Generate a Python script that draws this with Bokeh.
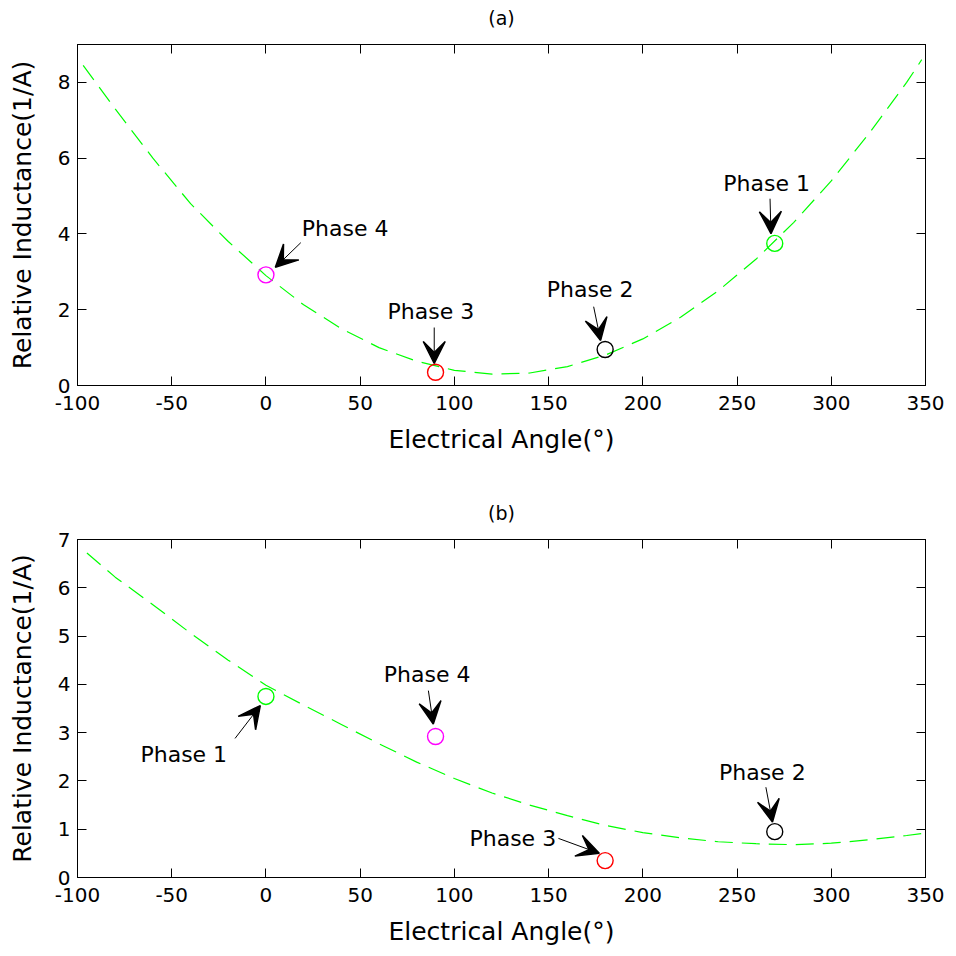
from bokeh.plotting import figure
from bokeh.layouts import column
from bokeh.models import (LinearAxis, FixedTicker, Range1d, Arrow, VeeHead,
                          Label, CustomLabelingPolicy)
from bokeh.embed import file_html
from bokeh.resources import INLINE

# ---- data -------------------------------------------------------------
x_ticks = [-100, -50, 0, 50, 100, 150, 200, 250, 300, 350]
y_ticks_a = [0, 2, 4, 6, 8]
y_ticks_b = [0, 1, 2, 3, 4, 5, 6, 7]

# relative inductance curve, panel (a)
angle_a = [-97, -80, -60, -40, -20, 0, 20, 40, 60, 80, 100, 120, 140, 160,
           180, 200, 220, 240, 260, 280, 300, 320, 340, 348]
ind_a = [8.45, 7.3, 6.0, 4.8, 3.8, 2.9, 2.13, 1.5, 1.0, 0.64, 0.4, 0.3, 0.33,
         0.5, 0.8, 1.23, 1.8, 2.5, 3.33, 4.3, 5.4, 6.65, 8.0, 8.6]

# relative inductance curve, panel (b)
angle_b = [-95, -80, -60, -40, -20, 0, 20, 40, 60, 80, 100, 120, 140, 160,
           180, 200, 220, 240, 260, 280, 300, 320, 340, 350]
ind_b = [6.72, 6.22, 5.65, 5.06, 4.5, 3.98, 3.57, 3.17, 2.77, 2.39, 2.05, 1.75,
         1.5, 1.28, 1.08, 0.93, 0.82, 0.74, 0.7, 0.68, 0.71, 0.78, 0.87, 0.92]

phases = ["Phase 1", "Phase 2", "Phase 3", "Phase 4"]
phase_ind = [3.75, 0.95, 0.35, 2.92]
phase_angle_a = [270, 180, 90, 0]
phase_angle_b = [0, 270, 180, 90]

# ---- styling ----------------------------------------------------------
FONT = "DejaVu Sans"
phase_colors = {"Phase 1": "#00ff00", "Phase 2": "black",
                "Phase 3": "#ff0000", "Phase 4": "#ff00ff"}

# annotation placement relative to each marker (data units):
# (text dx, text dy, text align, tail dx, tail dy, tip dx, tip dy)
notes_a = {
    "Phase 1": (-27.3, 1.58, "left", -2.5, 1.18, -2.0, 0.26),
    "Phase 2": (-31.0, 1.58, "left", -6.1, 1.13, -2.4, 0.24),
    "Phase 3": (-25.5, 1.60, "left", -0.7, 1.18, -0.7, 0.23),
    "Phase 4": (19.0, 1.22, "left", 18.5, 0.85, 5.0, 0.20),
}
notes_b = {
    "Phase 1": (-66.6, -1.20, "left", -16.4, -0.87, -3.0, -0.19),
    "Phase 2": (-29.6, 1.22, "left", -4.7, 0.92, -1.2, 0.20),
    "Phase 3": (-26.0, 0.46, "right", -24.8, 0.46, -3.1, 0.15),
    "Phase 4": (-27.5, 1.28, "left", -3.8, 0.95, -1.2, 0.26),
}

# mirrored (top/right) axes only carry tick marks
NO_LABELS = CustomLabelingPolicy(
    code="for (let i = 0; i < indices.size; i++) indices.unset(i); return indices;")


def style_axis(ax, ticks, show_labels):
    ax.ticker = FixedTicker(ticks=ticks)
    ax.major_tick_in = 9
    ax.major_tick_out = 0
    ax.minor_tick_line_color = None
    ax.axis_line_color = "black"
    ax.major_tick_line_color = "black"
    ax.axis_line_width = 1
    ax.major_label_text_font = FONT
    ax.major_label_text_color = "black"
    ax.major_label_overrides = {t: str(t) for t in ticks}
    if show_labels:
        ax.major_label_text_font_size = "20px"
        ax.axis_label_text_font = FONT
        ax.axis_label_text_font_size = "25px"
        ax.axis_label_text_font_style = "normal"
        ax.axis_label_text_color = "black"
    else:
        ax.major_label_policy = NO_LABELS
        ax.major_label_standoff = 0


def panel(title, angles, ind, ymax, yticks, phase_angles, notes,
          height, border_top, border_bottom, border_left, border_right):
    p = figure(width=956, height=height, output_backend="svg",
               toolbar_location=None,
               x_range=Range1d(-100, 350), y_range=Range1d(0, ymax),
               min_border_top=border_top, min_border_bottom=border_bottom,
               min_border_left=border_left, min_border_right=border_right)
    p.title.text = title
    p.title.align = "center"
    p.title.text_font = FONT
    p.title.text_font_size = "19px"
    p.title.text_font_style = "normal"
    p.title.text_color = "black"
    p.title.standoff = 9
    p.xgrid.visible = False
    p.ygrid.visible = False
    p.outline_line_color = "black"
    p.background_fill_color = "white"
    p.border_fill_color = "white"

    p.xaxis.axis_label = "Electrical Angle(°)"
    p.yaxis.axis_label = "Relative Inductance(1/A)"
    style_axis(p.xaxis[0], x_ticks, True)
    style_axis(p.yaxis[0], yticks, True)
    p.xaxis.major_label_standoff = 10
    p.xaxis.axis_label_standoff = 12
    p.yaxis.major_label_standoff = 7
    p.yaxis.axis_label_standoff = 18

    top_ax = LinearAxis()
    style_axis(top_ax, x_ticks, False)
    p.add_layout(top_ax, "above")
    right_ax = LinearAxis()
    style_axis(right_ax, yticks, False)
    p.add_layout(right_ax, "right")

    # inductance curve
    p.line(angles, ind, line_color="#00ff00", line_width=1.2,
           line_dash="18 9")

    # phase markers, labels and arrows
    for name, ang, val in zip(phases, phase_angles, phase_ind):
        p.scatter([ang], [val], marker="circle", size=16, fill_color=None,
                  line_color=phase_colors[name], line_width=1.4)
        tdx, tdy, align, sdx, sdy, edx, edy = notes[name]
        p.add_layout(Label(x=ang + tdx, y=val + tdy, text=name,
                           text_font=FONT, text_font_size="22px",
                           text_color="black", text_align=align,
                           text_baseline="middle"))
        p.add_layout(Arrow(x_start=ang + sdx, y_start=val + sdy,
                           x_end=ang + edx, y_end=val + edy,
                           line_color="black", line_width=1,
                           end=VeeHead(size=22, fill_color="black",
                                       line_color="black", line_width=1.5)))
    return p


p1 = panel("(a)", angle_a, ind_a, 9, y_ticks_a, phase_angle_a, notes_a,
           height=490, border_top=44, border_bottom=105,
           border_left=77, border_right=28)
p2 = panel("(b)", angle_b, ind_b, 7, y_ticks_b, phase_angle_b, notes_b,
           height=466, border_top=49, border_bottom=79,
           border_left=75, border_right=31)

layout = column(p1, p2)
open("out.html", "w").write(file_html(layout, INLINE))
